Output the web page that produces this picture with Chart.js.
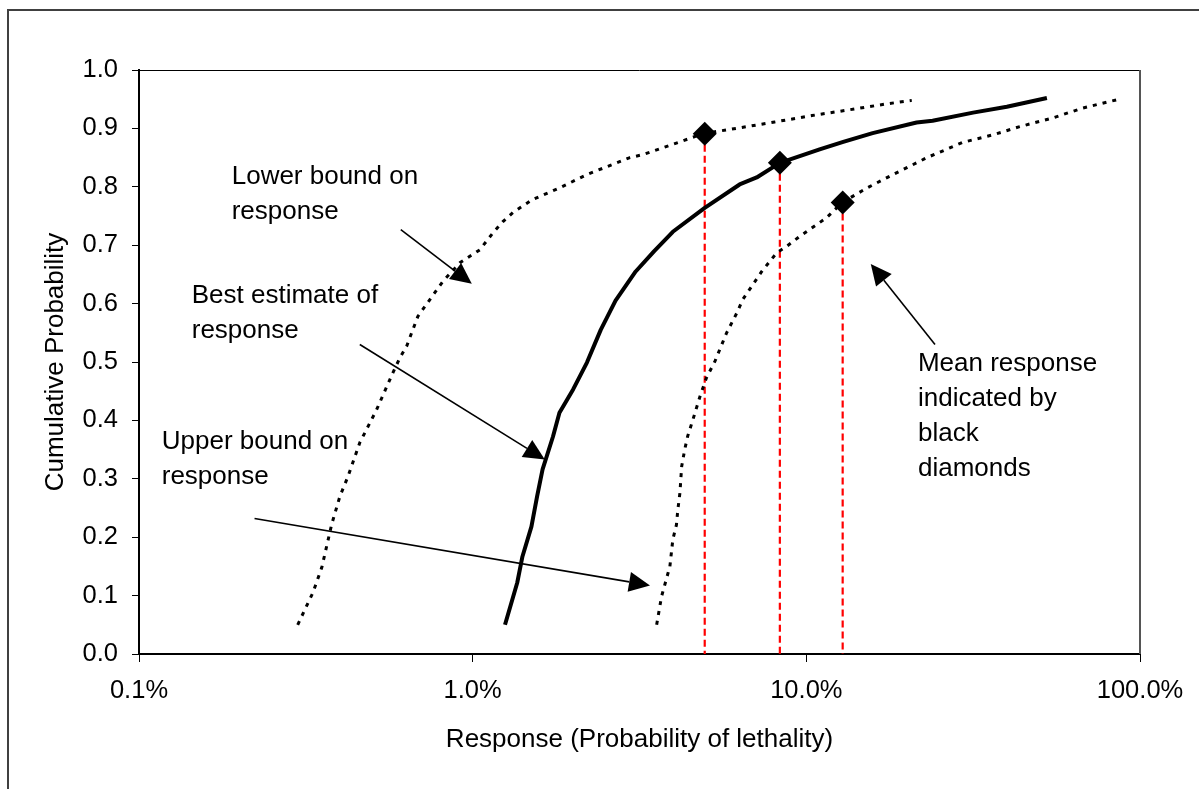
<!DOCTYPE html>
<html>
<head>
<meta charset="utf-8">
<title>Cumulative probability of response</title>
<script src="https://cdn.jsdelivr.net/npm/chart.js@4.4.0/dist/chart.umd.min.js"></script>
<style>
    html, body { margin: 0; padding: 0; background: #fff; }
    #wrap { width: 1199px; height: 789px; }
</style>
</head>
<body>
<div id="wrap"><canvas id="responseChart" width="1199" height="789"></canvas></div>
<script>
// Response values are in percent, cumulative probability 0..1
const lowerX = [0.299, 0.332, 0.353, 0.378, 0.400, 0.423, 0.459, 0.515, 0.576, 0.605, 0.634, 0.685, 0.814, 0.916, 1.05, 1.15, 1.23, 1.32, 1.51, 1.82, 2.20, 2.96, 3.23, 4.18, 4.90, 6.31, 8.04, 10.4, 13.5, 17.4, 20.7];
const lowerY = [0.05, 0.105, 0.148, 0.222, 0.270, 0.304, 0.362, 0.418, 0.481, 0.507, 0.527, 0.578, 0.638, 0.670, 0.692, 0.721, 0.740, 0.756, 0.778, 0.798, 0.821, 0.850, 0.855, 0.877, 0.891, 0.901, 0.911, 0.922, 0.932, 0.942, 0.948];

const bestX = [1.25, 1.36, 1.41, 1.50, 1.56, 1.62, 1.74, 1.82, 2.00, 2.20, 2.42, 2.68, 3.08, 3.50, 3.98, 4.96, 6.31, 7.10, 8.33, 10.96, 12.9, 15.8, 21.4, 23.9, 31.6, 39.9, 52.6];
const bestY = [0.05, 0.122, 0.167, 0.218, 0.270, 0.316, 0.372, 0.413, 0.453, 0.499, 0.555, 0.605, 0.655, 0.690, 0.723, 0.764, 0.804, 0.816, 0.841, 0.864, 0.877, 0.892, 0.910, 0.913, 0.927, 0.937, 0.952];

const upperX = [3.56, 3.68, 3.90, 3.98, 4.08, 4.12, 4.18, 4.23, 4.32, 4.41, 4.57, 4.80, 5.02, 5.32, 5.77, 6.19, 6.45, 7.35, 8.15, 8.73, 9.55, 11.5, 12.8, 15.2, 18.2, 23.0, 29.4, 36.3, 43.6, 54.8, 67.5, 85.3];
const upperY = [0.05, 0.098, 0.15, 0.196, 0.221, 0.247, 0.276, 0.321, 0.35, 0.373, 0.401, 0.441, 0.473, 0.501, 0.55, 0.584, 0.607, 0.655, 0.687, 0.698, 0.715, 0.747, 0.773, 0.798, 0.821, 0.850, 0.876, 0.889, 0.903, 0.918, 0.935, 0.949];

// mean responses (black diamonds)
const meanX = [4.96, 8.33, 12.85];
const meanY = [0.891, 0.841, 0.773];

const xTickValues = [0.1, 1, 10, 100];
const xTickLabels = ['0.1%', '1.0%', '10.0%', '100.0%'];
const yTickValues = [0, 0.1, 0.2, 0.3, 0.4, 0.5, 0.6, 0.7, 0.8, 0.9, 1.0];
const yTickLabels = ['0.0', '0.1', '0.2', '0.3', '0.4', '0.5', '0.6', '0.7', '0.8', '0.9', '1.0'];

// text notes: left edge and first baseline in data units
const noteLines = [
    ['Lower bound on', 'response'],
    ['Best estimate of', 'response'],
    ['Upper bound on', 'response'],
    ['Mean response', 'indicated by', 'black', 'diamonds']
];
const notePos = [[0.1896, 0.805], [0.1439, 0.6015], [0.117, 0.3515], [21.6, 0.485]];

// arrows: [fromX, fromY, toX, toY] in data units
const arrows = [
    [0.609, 0.7265, 0.994, 0.634],
    [0.459, 0.530, 1.645, 0.333],
    [0.222, 0.232, 3.40, 0.1175],
    [24.3, 0.530, 15.6, 0.668]
];

const FONT = "'Liberation Sans', Arial, sans-serif";

function toPoints(xs, ys) {
    return xs.map((x, i) => ({ x: x, y: ys[i] }));
}

function drawArrow(ctx, x1, y1, x2, y2) {
    const ang = Math.atan2(y2 - y1, x2 - x1);
    const len = 21, half = 10;
    const bx = x2 - len * Math.cos(ang);
    const by = y2 - len * Math.sin(ang);
    ctx.beginPath();
    ctx.moveTo(x1, y1);
    ctx.lineTo(bx, by);
    ctx.stroke();
    ctx.beginPath();
    ctx.moveTo(x2, y2);
    ctx.lineTo(bx + half * Math.sin(ang), by - half * Math.cos(ang));
    ctx.lineTo(bx - half * Math.sin(ang), by + half * Math.cos(ang));
    ctx.closePath();
    ctx.fill();
}

const decorPlugin = {
    id: 'decor',
    beforeDraw(chart) {
        const ctx = chart.ctx;
        ctx.save();
        ctx.fillStyle = '#fff';
        ctx.fillRect(0, 0, chart.width, chart.height);
        // outer frame runs off the right and bottom of the picture
        ctx.strokeStyle = '#404040';
        ctx.lineWidth = 2;
        ctx.strokeRect(8, 10, 1400, 1000);
        ctx.restore();
    },
    beforeDatasetsDraw(chart) {
        const { ctx, chartArea: a } = chart;
        ctx.save();
        ctx.strokeStyle = '#000';
        ctx.lineWidth = 1;
        ctx.beginPath();
        ctx.moveTo(a.left, a.top + 0.5);
        ctx.lineTo(a.right, a.top + 0.5);
        ctx.stroke();
        ctx.strokeStyle = '#555';
        ctx.lineWidth = 2;
        ctx.beginPath();
        ctx.moveTo(a.right, a.top);
        ctx.lineTo(a.right, a.bottom);
        ctx.stroke();
        ctx.restore();
    },
    afterDatasetsDraw(chart) {
        const ctx = chart.ctx;
        const xs = chart.scales.x, ys = chart.scales.y;
        ctx.save();
        ctx.strokeStyle = '#000';
        ctx.fillStyle = '#000';
        ctx.lineWidth = 1.6;
        arrows.forEach(a => {
            drawArrow(ctx, xs.getPixelForValue(a[0]), ys.getPixelForValue(a[1]),
                xs.getPixelForValue(a[2]), ys.getPixelForValue(a[3]));
        });
        ctx.font = '26px ' + FONT;
        ctx.textAlign = 'left';
        ctx.textBaseline = 'alphabetic';
        noteLines.forEach((lines, i) => {
            const px = xs.getPixelForValue(notePos[i][0]);
            const py = ys.getPixelForValue(notePos[i][1]);
            lines.forEach((t, j) => ctx.fillText(t, px, py + j * 35));
        });
        ctx.restore();
    }
};

const datasets = [];

datasets.push({
    label: 'Mean response',
    data: toPoints(meanX, meanY),
    pointStyle: 'rectRot',
    pointRadius: 12,
    pointBackgroundColor: '#000',
    pointBorderWidth: 0,
    showLine: false,
    order: 0
});

datasets.push({
    label: 'Best estimate',
    data: toPoints(bestX, bestY),
    borderColor: '#000',
    borderWidth: 4,
    borderJoinStyle: 'round',
    pointRadius: 0,
    showLine: true,
    order: 1
});

datasets.push({
    label: 'Lower bound',
    data: toPoints(lowerX, lowerY),
    borderColor: '#000',
    borderWidth: 3,
    borderDash: [4, 6],
    pointRadius: 0,
    showLine: true,
    order: 1
});

datasets.push({
    label: 'Upper bound',
    data: toPoints(upperX, upperY),
    borderColor: '#000',
    borderWidth: 3,
    borderDash: [4, 6],
    pointRadius: 0,
    showLine: true,
    order: 1
});

// red drop lines from each diamond to the axis
meanX.forEach((x, i) => {
    datasets.push({
        label: 'drop ' + i,
        data: [{ x: x, y: meanY[i] }, { x: x, y: 0 }],
        borderColor: '#ff0000',
        borderWidth: 2.2,
        borderDash: [7, 4],
        pointRadius: 0,
        showLine: true,
        order: 2
    });
});

Chart.defaults.font.family = FONT;
Chart.defaults.color = '#000';

new Chart(document.getElementById('responseChart'), {
    type: 'scatter',
    data: { datasets: datasets },
    options: {
        responsive: false,
        animation: false,
        events: [],
        layout: { padding: { left: 0, top: 70, right: 59, bottom: 0 } },
        plugins: { legend: { display: false }, tooltip: { enabled: false } },
        scales: {
            x: {
                type: 'logarithmic',
                min: 0.1,
                max: 100,
                afterBuildTicks: scale => {
                    scale.ticks = xTickValues.map(v => ({ value: v }));
                },
                afterFit: scale => { scale.height = 135; },
                ticks: {
                    autoSkip: false,
                    maxRotation: 0,
                    padding: 14,
                    font: { size: 25.5 },
                    callback: (v, i) => xTickLabels[i]
                },
                grid: { drawOnChartArea: false, drawTicks: true, tickLength: 8, color: '#000' },
                border: { color: '#000', width: 2 },
                title: {
                    display: true,
                    text: 'Response (Probability of lethality)',
                    font: { size: 26 },
                    padding: { top: 0, bottom: 34 }
                }
            },
            y: {
                type: 'linear',
                min: 0,
                max: 1,
                afterBuildTicks: scale => {
                    scale.ticks = yTickValues.map(v => ({ value: v }));
                },
                afterFit: scale => { scale.width = 139; },
                ticks: {
                    autoSkip: false,
                    padding: 14,
                    font: { size: 25.5 },
                    callback: (v, i) => yTickLabels[i]
                },
                grid: { drawOnChartArea: false, drawTicks: true, tickLength: 7, color: '#000' },
                border: { color: '#000', width: 2 },
                title: {
                    display: true,
                    text: 'Cumulative Probability',
                    font: { size: 26 },
                    padding: { top: 40, bottom: 0 }
                }
            }
        }
    },
    plugins: [decorPlugin]
});
</script>
</body>
</html>
